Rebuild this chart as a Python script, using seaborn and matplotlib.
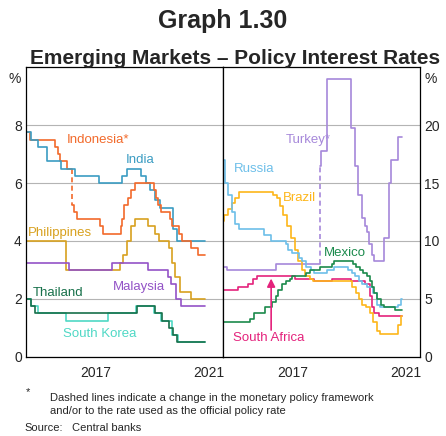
import matplotlib
matplotlib.use("Agg")
import matplotlib.pyplot as plt
import matplotlib.dates as mdates
import seaborn as sns
import pandas as pd

# policy rate changes: (date of change, new rate)
END_DATE = "2021-05-10"

indonesia_old_dates = ["2015-01-01", "2015-02-17", "2016-01-14", "2016-02-18", "2016-03-17", "2016-06-16", "2016-08-19"]
indonesia_old_rates = [7.75, 7.5, 7.25, 7.0, 6.75, 6.5, 6.5]
indonesia_dates = ["2016-08-19", "2016-09-22", "2016-10-20", "2017-08-22", "2017-09-22", "2018-05-17", "2018-05-30",
                   "2018-06-29", "2018-08-15", "2018-09-27", "2018-11-15", "2019-07-18", "2019-08-22", "2019-09-19",
                   "2019-10-24", "2020-02-20", "2020-03-19", "2020-06-18", "2020-07-16", "2020-11-19", "2021-02-18"]
indonesia_rates = [5.25, 5.0, 4.75, 4.5, 4.25, 4.5, 4.75, 5.25, 5.5, 5.75, 6.0, 5.75, 5.5, 5.25, 5.0, 4.75, 4.5,
                   4.25, 4.0, 3.75, 3.5]

india_dates = ["2015-01-01", "2015-03-04", "2015-06-02", "2015-09-29", "2016-04-05", "2016-10-04", "2017-08-02",
               "2018-06-06", "2018-08-01", "2019-02-07", "2019-04-04", "2019-06-06", "2019-08-07", "2019-10-04",
               "2020-03-27", "2020-05-22"]
india_rates = [7.75, 7.5, 7.25, 6.75, 6.5, 6.25, 6.0, 6.25, 6.5, 6.25, 6.0, 5.75, 5.4, 5.15, 4.4, 4.0]

philippines_dates = ["2015-01-01", "2016-06-03", "2018-05-10", "2018-06-20", "2018-08-09", "2018-09-27", "2018-11-15",
                     "2019-05-09", "2019-08-08", "2019-09-26", "2020-02-06", "2020-03-19", "2020-04-16", "2020-06-25",
                     "2020-11-19"]
philippines_rates = [4.0, 3.0, 3.25, 3.5, 4.0, 4.5, 4.75, 4.5, 4.25, 4.0, 3.75, 3.25, 2.75, 2.25, 2.0]

malaysia_dates = ["2015-01-01", "2016-07-13", "2018-01-25", "2019-05-07", "2020-01-22", "2020-03-03", "2020-05-05",
                  "2020-07-07"]
malaysia_rates = [3.25, 3.0, 3.25, 3.0, 2.75, 2.5, 2.0, 1.75]

thailand_dates = ["2015-01-01", "2015-03-11", "2015-04-29", "2018-12-19", "2019-08-07", "2019-11-06", "2020-02-05",
                  "2020-03-23", "2020-05-20"]
thailand_rates = [2.0, 1.75, 1.5, 1.75, 1.5, 1.25, 1.0, 0.75, 0.5]

korea_dates = ["2015-01-01", "2015-03-12", "2015-06-11", "2016-06-09", "2017-11-30", "2018-11-30", "2019-07-18",
               "2019-10-16", "2020-03-16", "2020-05-28"]
korea_rates = [2.0, 1.75, 1.5, 1.25, 1.5, 1.75, 1.5, 1.25, 0.75, 0.5]

turkey_old_dates = ["2015-01-01", "2015-02-24", "2016-11-24", "2018-06-20"]
turkey_old_rates = [7.75, 7.5, 8.0, 8.0]
turkey_dates = ["2018-06-20", "2018-06-28", "2018-09-13", "2019-07-25", "2019-09-12", "2019-10-24", "2019-12-12",
                "2020-01-16", "2020-02-19", "2020-03-17", "2020-04-22", "2020-05-21", "2020-09-24", "2020-11-19",
                "2020-12-24", "2021-03-18"]
turkey_rates = [16.5, 17.75, 24.0, 19.75, 16.5, 14.0, 12.0, 11.25, 10.75, 9.75, 8.75, 8.25, 10.25, 15.0, 17.0, 19.0]

russia_dates = ["2015-01-01", "2015-02-02", "2015-03-16", "2015-05-05", "2015-06-16", "2015-08-03", "2016-06-14",
                "2016-09-19", "2017-03-27", "2017-05-02", "2017-06-19", "2017-09-18", "2017-10-30", "2017-12-18",
                "2018-02-12", "2018-03-26", "2018-09-17", "2018-12-17", "2019-06-17", "2019-07-29", "2019-09-09",
                "2019-10-28", "2019-12-16", "2020-02-10", "2020-04-27", "2020-06-22", "2020-07-27", "2021-03-22",
                "2021-04-26"]
russia_rates = [17.0, 15.0, 14.0, 12.5, 11.5, 11.0, 10.5, 10.0, 9.75, 9.25, 9.0, 8.5, 8.25, 7.75, 7.5, 7.25, 7.5,
                7.75, 7.5, 7.25, 7.0, 6.5, 6.25, 6.0, 5.5, 4.5, 4.25, 4.5, 5.0]

brazil_dates = ["2015-01-01", "2015-01-22", "2015-03-05", "2015-04-30", "2015-06-04", "2015-07-30", "2016-10-20",
                "2016-12-01", "2017-01-12", "2017-02-23", "2017-04-13", "2017-06-01", "2017-07-27", "2017-09-07",
                "2017-10-26", "2017-12-07", "2018-02-08", "2018-03-22", "2019-08-01", "2019-09-19", "2019-10-31",
                "2019-12-12", "2020-02-06", "2020-03-19", "2020-05-07", "2020-06-18", "2020-08-06", "2021-03-18",
                "2021-05-06"]
brazil_rates = [11.75, 12.25, 12.75, 13.25, 13.75, 14.25, 14.0, 13.75, 13.0, 12.25, 11.25, 10.25, 9.25, 8.25, 7.5,
                7.0, 6.75, 6.5, 6.0, 5.5, 5.0, 4.5, 4.25, 3.75, 3.0, 2.25, 2.0, 2.75, 3.5]

mexico_dates = ["2015-01-01", "2015-12-17", "2016-02-17", "2016-06-30", "2016-09-29", "2016-11-17", "2016-12-15",
                "2017-02-09", "2017-03-30", "2017-05-18", "2017-06-22", "2017-12-14", "2018-02-08", "2018-06-21",
                "2018-11-15", "2018-12-20", "2019-08-15", "2019-09-26", "2019-11-14", "2019-12-19", "2020-02-13",
                "2020-03-20", "2020-04-21", "2020-05-14", "2020-06-25", "2020-08-13", "2020-09-24", "2021-02-11"]
mexico_rates = [3.0, 3.25, 3.75, 4.25, 4.75, 5.25, 5.75, 6.25, 6.5, 6.75, 7.0, 7.25, 7.5, 7.75, 8.0, 8.25, 8.0, 7.75,
                7.5, 7.25, 7.0, 6.5, 6.0, 5.5, 5.0, 4.5, 4.25, 4.0]

safrica_dates = ["2015-01-01", "2015-07-23", "2015-11-19", "2016-01-28", "2016-03-17", "2017-07-20", "2018-03-28",
                 "2018-11-22", "2019-07-18", "2020-01-16", "2020-03-19", "2020-04-14", "2020-05-21", "2020-07-23"]
safrica_rates = [5.75, 6.0, 6.25, 6.75, 7.0, 6.75, 6.5, 6.75, 6.5, 6.25, 5.25, 4.25, 3.75, 3.5]

left_ticks = [0, 2, 4, 6, 8]
right_ticks = [0, 5, 10, 15, 20]
year_labels = ["2017", "2021"]

FONT = ["Liberation Sans", "DejaVu Sans"]
sns.set_style("white")
plt.rcParams["font.family"] = FONT

C_INDONESIA = "#f26a2b"
C_INDIA = "#3b9cc2"
C_PHIL = "#d8a11f"
C_MALAY = "#9353c7"
C_THAI = "#17704a"
C_KOREA = "#4fd8c5"
C_TURKEY = "#a688da"
C_RUSSIA = "#6dbfe9"
C_BRAZIL = "#fdb61a"
C_MEXICO = "#1b8a4c"
C_SAFRICA = "#e4227c"


def step_line(ax, dates, rates, color, extend=True):
    d = pd.to_datetime(list(dates))
    r = list(rates)
    if extend:
        d = d.append(pd.DatetimeIndex([pd.Timestamp(END_DATE)]))
        r = r + [r[-1]]
    sns.lineplot(x=d, y=r, ax=ax, color=color, lw=1.2, drawstyle="steps-post",
                 estimator=None, sort=False)


def break_line(ax, old_dates, old_rates, new_rates, color):
    # dashed link where the policy rate definition changed
    b = pd.to_datetime([old_dates[-1], old_dates[-1]])
    sns.lineplot(x=b, y=[old_rates[-1], new_rates[0]], ax=ax, color=color, lw=1.2,
                 estimator=None, sort=False, dashes=False, linestyle=(0, (3, 2)))


fig = plt.figure(figsize=(4.46, 4.36), dpi=100)
ax1 = fig.add_axes([0.0583, 0.1819, 0.4410, 0.6637])
ax2 = fig.add_axes([0.4993, 0.1819, 0.4424, 0.6637])

# left panel
step_line(ax1, indonesia_old_dates, indonesia_old_rates, C_INDONESIA, extend=False)
break_line(ax1, indonesia_old_dates, indonesia_old_rates, indonesia_rates, C_INDONESIA)
step_line(ax1, india_dates, india_rates, C_INDIA)
step_line(ax1, indonesia_dates, indonesia_rates, C_INDONESIA)
step_line(ax1, philippines_dates, philippines_rates, C_PHIL)
step_line(ax1, malaysia_dates, malaysia_rates, C_MALAY)
step_line(ax1, korea_dates, korea_rates, C_KOREA)
step_line(ax1, thailand_dates, thailand_rates, C_THAI)

# right panel
step_line(ax2, turkey_old_dates, turkey_old_rates, C_TURKEY, extend=False)
break_line(ax2, turkey_old_dates, turkey_old_rates, turkey_rates, C_TURKEY)
step_line(ax2, turkey_dates, turkey_rates, C_TURKEY)
step_line(ax2, safrica_dates, safrica_rates, C_SAFRICA)
step_line(ax2, brazil_dates, brazil_rates, C_BRAZIL)
step_line(ax2, russia_dates, russia_rates, C_RUSSIA)
step_line(ax2, mexico_dates, mexico_rates, C_MEXICO)

year_starts = [pd.Timestamp(f"{y}-01-01") for y in range(2015, 2023)]
mid_years = [pd.Timestamp(f"{y}-07-02") for y in year_labels]

for ax, ticks, top in [(ax1, left_ticks, 10), (ax2, right_ticks, 25)]:
    ax.set_xlim(year_starts[0], year_starts[-1])
    ax.set_ylim(0, top)
    ax.set_xlabel("")
    ax.set_ylabel("")
    ax.set_yticks(ticks)
    ax.set_yticklabels([str(t) for t in ticks], fontsize=10)
    ax.tick_params(axis="y", length=0, pad=3)
    ax.xaxis.set_major_locator(mdates.YearLocator())
    ax.xaxis.set_major_formatter(plt.NullFormatter())
    ax.tick_params(axis="x", which="major", direction="in", length=4, width=0.8, color="black")
    ax.set_xticks(mid_years, minor=True)
    ax.set_xticklabels(year_labels, minor=True, fontsize=10)
    ax.tick_params(axis="x", which="minor", length=0, pad=7)
    ax.grid(axis="y", color="#b4b4b4", lw=0.8)
    ax.grid(axis="x", visible=False)
    for s in ax.spines.values():
        s.set_visible(True)
        s.set_color("black")
        s.set_linewidth(0.9)

ax2.yaxis.tick_right()
ax1.text(-0.025, 0.985, "%", transform=ax1.transAxes, ha="right", va="top", fontsize=10)
ax2.text(1.025, 0.985, "%", transform=ax2.transAxes, ha="left", va="top", fontsize=10)


def label(ax, x, y, text, color, ha="left"):
    ax.text(pd.Timestamp(x), y, text, color=color, fontsize=9.5, ha=ha, va="center")


label(ax1, "2016-06-10", 7.5, "Indonesia*", C_INDONESIA)
label(ax1, "2018-07-25", 6.8, "India", C_INDIA)
label(ax1, "2015-01-25", 4.27, "Philippines", C_PHIL)
label(ax1, "2018-02-01", 2.4, "Malaysia", C_MALAY)
label(ax1, "2015-04-05", 2.2, "Thailand", C_THAI)
label(ax1, "2016-04-20", 0.8, "South Korea", C_KOREA)

label(ax2, "2018-11-05", 18.7, "Turkey*", C_TURKEY, ha="right")
label(ax2, "2015-05-20", 16.2, "Russia", C_RUSSIA)
label(ax2, "2017-02-20", 13.75, "Brazil", C_BRAZIL)
label(ax2, "2018-08-10", 8.95, "Mexico", C_MEXICO)
label(ax2, "2015-05-20", 1.6, "South Africa", C_SAFRICA)

arrow_x = pd.Timestamp("2016-09-20")
ax2.annotate("", xy=(arrow_x, 6.75), xytext=(arrow_x, 2.3),
             arrowprops=dict(arrowstyle="-|>", color=C_SAFRICA, lw=1.2, mutation_scale=12,
                             shrinkA=0, shrinkB=0))

fig.text(0.5, 0.935, "Graph 1.30", ha="center", va="baseline", fontsize=18, fontweight="bold")
fig.text(0.527, 0.853, "Emerging Markets \u2013 Policy Interest Rates", ha="center", va="baseline",
         fontsize=15, fontweight="bold")
fig.text(0.058, 0.093, "*", ha="left", va="baseline", fontsize=8)
fig.text(0.112, 0.080, "Dashed lines indicate a change in the monetary policy framework", ha="left",
         va="baseline", fontsize=8)
fig.text(0.112, 0.050, "and/or to the rate used as the official policy rate", ha="left", va="baseline",
         fontsize=8)
fig.text(0.054, 0.012, "Source:", ha="left", va="baseline", fontsize=8)
fig.text(0.162, 0.012, "Central banks", ha="left", va="baseline", fontsize=8)

fig.savefig("out.png", dpi=100)
